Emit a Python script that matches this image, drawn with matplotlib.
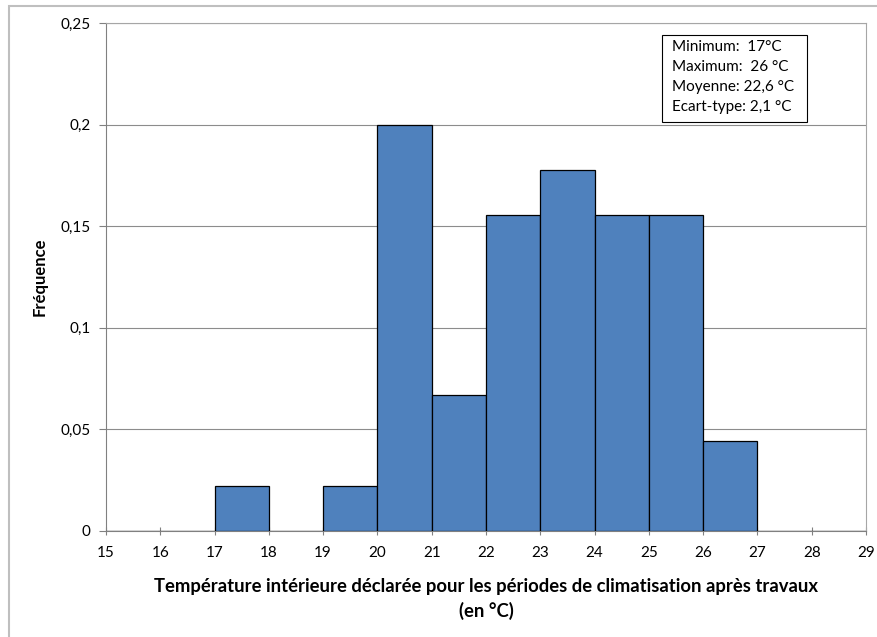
import matplotlib
matplotlib.use("Agg")
import matplotlib.pyplot as plt
from matplotlib.patches import Rectangle

# histogram bins (°C) and relative frequencies
bin_edges = list(range(15, 30))
frequencies = [0, 0, 0.0222, 0, 0.0222, 0.2, 0.0667, 0.1556, 0.1778,
               0.1556, 0.1556, 0.0444, 0, 0]
y_ticks = [0, 0.05, 0.1, 0.15, 0.2, 0.25]
y_tick_labels = ["0", "0,05", "0,1", "0,15", "0,2", "0,25"]
stats_lines = ["Minimum:  17°C", "Maximum:  26 °C", "Moyenne: 22,6 °C", "Ecart-type: 2,1 °C"]

plt.rcParams["font.family"] = ["Lato", "DejaVu Sans"]

fig = plt.figure(figsize=(8.77, 6.37), dpi=100)
fig.patches.append(Rectangle((9 / 877, -0.01), 1.1, 1 - 6 / 637 + 0.01,
                             transform=fig.transFigure, fill=False,
                             edgecolor="#bfbfbf", linewidth=1.5))
ax = fig.add_axes([106 / 877, 1 - 531 / 637, 760 / 877, 508 / 637])

lefts = bin_edges[:-1]
ax.bar(lefts, frequencies, width=1, align="edge", color="#4f81bd",
       edgecolor="black", linewidth=0.9, zorder=3)

ax.set_xlim(bin_edges[0], bin_edges[-1])
ax.set_ylim(0, 0.25)
ax.set_xticks(bin_edges)
ax.set_xticklabels([str(b) for b in bin_edges], fontsize=11)
ax.set_yticks(y_ticks)
ax.set_yticklabels(y_tick_labels, fontsize=11)
ax.yaxis.grid(True, color="#8c8c8c", linewidth=0.8, zorder=0)
ax.tick_params(axis="x", direction="inout", length=6, color="#808080", pad=8)
ax.tick_params(axis="y", direction="out", length=5, color="#808080", pad=6)

for side in ["top", "right"]:
    ax.spines[side].set_color("#a6a6a6")
for side in ["left", "bottom"]:
    ax.spines[side].set_color("#808080")

ax.set_xlabel("Température intérieure déclarée pour les périodes de climatisation après travaux\n(en °C)",
              fontsize=13.3, fontweight="bold", labelpad=13, linespacing=1.45)
ax.set_ylabel("Fréquence", fontsize=12, fontweight="bold", labelpad=9)

# stats box
ax.add_patch(Rectangle((0.7316, 0.805), 0.1908, 0.171, transform=ax.transAxes,
                       facecolor="white", edgecolor="black", linewidth=0.8, zorder=5))
ax.text(0.7447, 0.966, "\n".join(stats_lines), transform=ax.transAxes,
        fontsize=11, va="top", ha="left", linespacing=1.55, zorder=6)

fig.savefig("out.png", dpi=100)
